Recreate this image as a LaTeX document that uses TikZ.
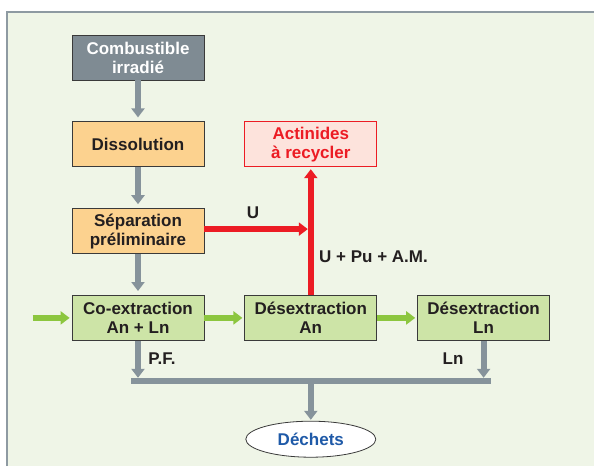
\documentclass[tikz,border=0pt]{standalone}
\usepackage{fontspec}
\setmainfont{Liberation Sans}
\usetikzlibrary{positioning,arrows.meta,shapes.geometric,calc}
\definecolor{panel}{HTML}{EFF5E7}
\definecolor{panelline}{HTML}{8E9AA2}
\definecolor{boxedge}{HTML}{3A3A3A}
\definecolor{ink}{HTML}{231F20}
\definecolor{fuelgray}{HTML}{7F8B93}
\definecolor{boxorange}{HTML}{FCD28F}
\definecolor{boxgreen}{HTML}{CDE4A7}
\definecolor{boxpink}{HTML}{FDE3DC}
\definecolor{flowgray}{HTML}{86939B}
\definecolor{flowgreen}{HTML}{8CC63F}
\definecolor{flowred}{HTML}{EC1C24}
\definecolor{wasteblue}{HTML}{1F5AA8}
\begin{document}
\begin{tikzpicture}[x=1pt,y=-1pt,>={Triangle[width=13pt,length=9pt]},
  font=\fontsize{17}{19}\selectfont\bfseries, node distance=41pt and 40pt,
  box/.style={draw=boxedge,line width=0.8pt,minimum width=132pt,minimum height=45pt,align=center,inner sep=0pt,text=ink},
  gflow/.style={->,line width=6pt,draw=flowgray},
  vflow/.style={->,line width=6pt,draw=flowgreen},
  rflow/.style={->,line width=5.5pt,draw=flowred},
  lbl/.style={text=ink,inner sep=0pt}]
  \useasboundingbox (0,0) rectangle (594,466);
  \fill[panel] (7,12) rectangle (594,466);
  \draw[panelline,line width=1.5pt] (7,466) -- (7,12) -- (594,12);
  \node[box,fill=fuelgray,text=white](comb) at (138,57.5) {Combustible\\irradié};
  \node[box,fill=boxorange,below=of comb](diss){Dissolution};
  \node[box,fill=boxorange,below=of diss](sep){Séparation\\préliminaire};
  \node[box,fill=boxgreen,below=of sep](coex){Co-extraction\\An + Ln};
  \node[box,fill=boxgreen,right=of coex](dan){Désextraction\\An};
  \node[box,fill=boxgreen,right=of dan](dln){Désextraction\\Ln};
  \node[box,fill=boxpink,draw=flowred,text=flowred,right=of diss](act){Actinides\\à recycler};
  \node[draw=boxedge,ellipse,fill=white,line width=0.8pt,minimum width=130pt,minimum height=36pt,inner sep=0pt,text=wasteblue,below=80pt of dan](dech){Déchets};
  \draw[gflow,shorten >=4pt](comb)--(diss);\draw[gflow,shorten >=4pt](diss)--(sep);
  \draw[gflow,shorten >=4pt](sep)--(coex);
  \coordinate[left=39pt of coex](feed);
  \draw[vflow,shorten >=2pt](feed)--(coex);\draw[vflow,shorten >=2pt](coex)--(dan);
  \draw[vflow,shorten >=2pt](dan)--(dln);
  \draw[rflow,shorten >=2pt](dan)--(act);
  \coordinate(ujoin) at ($(sep.east -| dan.north)+(0,-2)$);
  \draw[rflow,shorten >=3pt](sep.east |- ujoin)--(ujoin);
  \node[lbl](ulbl) at (253,213){U};
  \node[lbl,anchor=west](mix) at (319,257){U + Pu + A.M.};
  \coordinate(busl) at ($(coex.south)+(-7,40)$); \coordinate(busr) at ($(dln.south)+(7,40)$);
  \draw[line width=6.5pt,flowgray](busl)--(busr);
  \draw[gflow,shorten >=3pt](coex.south)--(coex.south |- busl);
  \draw[gflow,shorten >=3pt](dln.south)--(dln.south |- busl);
  \draw[gflow,shorten <=3pt,shorten >=1pt](dech.north |- busl)--(dech.north);
  \node[lbl](pf) at (162,359){P.F.};
  \node[lbl](lnlbl) at (453,359){Ln};
\end{tikzpicture}
\end{document}
